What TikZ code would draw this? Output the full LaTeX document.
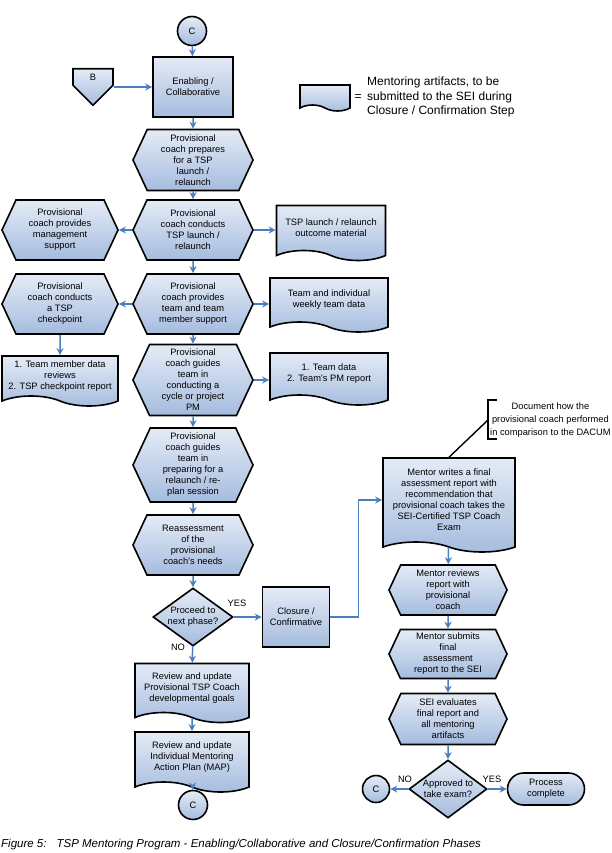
\documentclass[tikz,border=0pt]{standalone}
\usepackage{fontspec}
\setmainfont{Liberation Sans}
\usetikzlibrary{shapes.geometric,shapes.symbols,shapes.misc,arrows.meta}
\definecolor{fcTop}{RGB}{228,235,246}
\definecolor{fcBot}{RGB}{165,188,222}
\definecolor{flowBlue}{RGB}{74,126,189}

\begin{document}
\begin{tikzpicture}[
        x=1pt,
        y=-1pt,
        >={Stealth[length=7pt,width=7pt]},
        base/.style={draw=black, line width=1.6pt, top color=fcTop, bottom color=fcBot,
            font=\fontsize{9.3}{11}\selectfont, align=center, inner sep=0.5pt},
        procbox/.style={base, shape=rectangle, minimum width=80, minimum height=60},
        hexbox/.style={base, shape=signal, signal to=west and east, signal pointer angle=130,
            minimum width=120, minimum height=60},
        docbox/.style={base, shape=tape, tape bend top=none, tape bend bottom=out and in,
            tape bend height=10pt, minimum width=116, minimum height=54},
        decision/.style={base, shape=diamond, inner xsep=-12pt, inner ysep=0pt,
            minimum width=80, minimum height=58},
        offpage/.style={base, shape=signal, signal to=south, signal from=nowhere,
            signal pointer angle=90, minimum width=40, minimum height=20},
        jumper/.style={base, shape=circle, minimum size=29},
        terminal/.style={base, shape=rounded rectangle, minimum width=78, minimum height=32},
        flow/.style={->, draw=flowBlue, line width=1.5pt},
        lbl/.style={font=\fontsize{9.3}{11}\selectfont, inner sep=0pt}
    ]

    \useasboundingbox (0,0) rectangle (612,853);

    \node[jumper] (ctop) at (192,31) {C};
    \node[procbox] (enab) at (193,87) {Enabling /\\Collaborative};
    \node[offpage] (pb) at (93,77) {B};

    \node[docbox, minimum width=50, minimum height=26, tape bend height=6pt] (lgd) at (325,95) {};
    \node[lbl, font=\fontsize{12}{14.5}\selectfont] (eq) at (358,98) {=};
    \node[lbl, font=\fontsize{12}{14.5}\selectfont, align=left, anchor=west] (lgdtxt) at (367,97)
        {Mentoring artifacts, to be\\submitted to the SEI during\\Closure / Confirmation Step};

    \node[hexbox, minimum height=61] (prep) at (193,160) {Provisional\\coach prepares\\for a TSP\\launch /\\relaunch};
    \node[hexbox] (launch) at (193,230) {Provisional\\coach conducts\\TSP launch /\\relaunch};
    \node[hexbox, minimum width=116] (mgmt) at (60,230) {Provisional\\coach provides\\management\\support};
    \node[docbox, minimum width=109, minimum height=55] (outc) at (331,228) {TSP launch / relaunch\\outcome material};

    \node[hexbox] (support) at (193,304) {Provisional\\coach provides\\team and team\\member support};
    \node[hexbox, minimum width=116] (chkp) at (60,304) {Provisional\\coach conducts\\a TSP\\checkpoint};
    \node[docbox, minimum width=118] (weekly) at (329,300) {Team and individual\\weekly team data};
    \node[docbox, minimum height=50] (tmdata) at (60,376) {1. Team member data\\reviews\\2. TSP checkpoint report};

    \node[hexbox, minimum height=71] (cycle) at (193,380) {Provisional\\coach guides\\team in\\conducting a\\cycle or project\\PM};
    \node[docbox, minimum width=118, minimum height=52] (tdata) at (329,374) {1. Team data\\2. Team’s PM report};

    \node[hexbox, minimum height=74] (replan) at (193,465) {Provisional\\coach guides\\team in\\preparing for a\\relaunch / re-\\plan session};
    \node[hexbox] (reass) at (193,545) {Reassessment\\of the\\provisional\\coach’s needs};

    \node[decision] (proceed) at (193,617) {Proceed to\\next phase?};
    \node[procbox, minimum width=67] (closure) at (296,617) {Closure /\\Confirmative};
    \node[lbl] (yes1) at (237,603) {YES};
    \node[lbl] (no1) at (178,647) {NO};

    \node[docbox, minimum width=114, minimum height=59] (goals) at (192,688) {Review and update\\Provisional TSP Coach\\developmental goals};
    \node[docbox, minimum width=114, minimum height=60] (map) at (192,757) {Review and update\\Individual Mentoring\\Action Plan (MAP)};
    \node[jumper] (cbot) at (193,805) {C};

    \node[lbl, font=\fontsize{9.3}{13}\selectfont, anchor=west, align=center] (annot) at (490,420)
        {Document how the\\provisional coach performed\\in comparison to the DACUM};
    \coordinate (brk) at (488,420);
    \node[docbox, minimum width=132, minimum height=94] (mwrite) at (449,500)
        {Mentor writes a final\\assessment report with\\recommendation that\\provisional coach takes the\\SEI-Certified TSP Coach\\Exam};
    \node[hexbox, minimum width=118, minimum height=50] (mrev) at (448,590) {Mentor reviews\\report with\\provisional\\coach};
    \node[hexbox, minimum width=118, minimum height=49] (msub) at (448,654) {Mentor submits\\final\\assessment\\report to the SEI};
    \node[hexbox, minimum width=118, minimum height=51] (seiev) at (448,719) {SEI evaluates\\final report and\\all mentoring\\artifacts};
    \node[decision, minimum width=78] (approved) at (448,789) {Approved to\\take exam?};
    \node[jumper, minimum size=27] (cright) at (376,789) {C};
    \node[terminal] (done) at (546,789) {Process\\complete};
    \node[lbl] (no2) at (405,779) {NO};
    \node[lbl] (yes2) at (492,779) {YES};

    \node[anchor=west, inner sep=0pt, font=\fontsize{11.5}{13}\selectfont\itshape] (cap) at (1,845)
        {Figure 5:\hspace{10pt}TSP Mentoring Program - Enabling/Collaborative and Closure/Confirmation Phases};

    \draw[flow] (ctop) -- (enab);
    \draw[flow] (enab.west -| pb.east) -- (enab.west);
    \draw[flow] (enab) -- (prep);
    \draw[flow] (prep) -- (launch);
    \draw[flow] (launch.west) -- (mgmt.east);
    \draw[flow] (launch.east) -- (launch.east -| outc.west);
    \draw[flow] (launch) -- (support);
    \draw[flow] (support.west) -- (chkp.east);
    \draw[flow] (support.east) -- (support.east -| weekly.west);
    \draw[flow] (chkp) -- (tmdata);
    \draw[flow] (support) -- (cycle);
    \draw[flow] (cycle.east) -- (cycle.east -| tdata.west);
    \draw[flow] (cycle) -- (replan);
    \draw[flow] (replan) -- (reass);
    \draw[flow] (reass) -- (proceed);
    \draw[flow] (proceed) -- (closure);
    \draw[flow] (proceed) -- (goals);
    \draw[flow] (goals) -- (map);
    \draw[flow] (map) -- (cbot);
    \draw[flow] (closure.east) -- ++(28,0) |- (mwrite.west);
    \draw[flow] (mwrite) -- (mrev);
    \draw[flow] (mrev) -- (msub);
    \draw[flow] (msub) -- (seiev);
    \draw[flow] (seiev) -- (approved);
    \draw[flow] (approved) -- (cright);
    \draw[flow] (approved) -- (done);

    \draw[line width=1.4pt] (497,400) -- (488,400) -- (488,439) -- (497,439);
    \draw[line width=1.4pt] (brk) -- (mwrite.north);

\end{tikzpicture}
\end{document}
